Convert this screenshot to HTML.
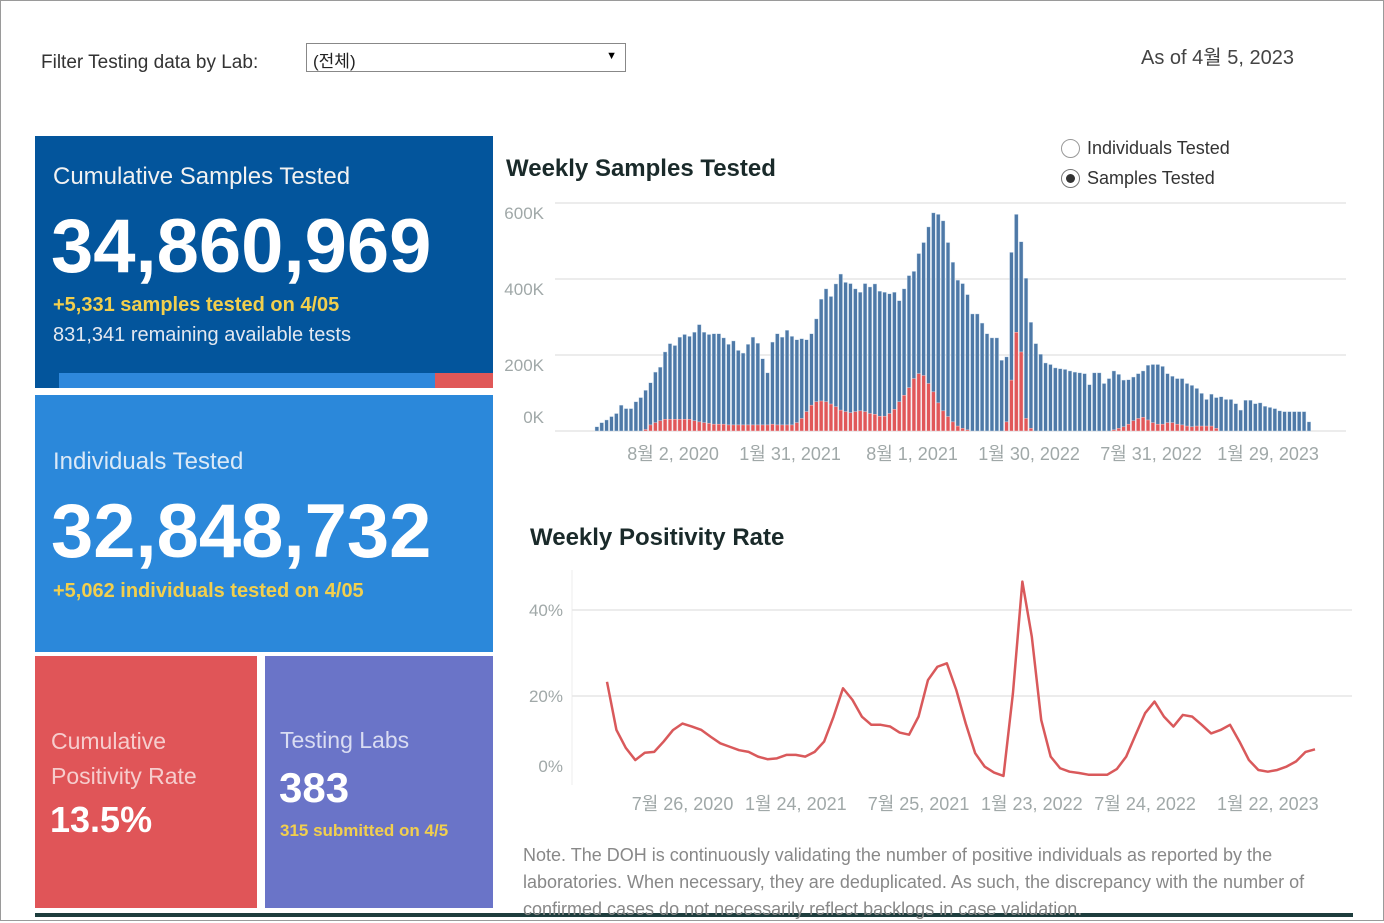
<!DOCTYPE html>
<html><head><meta charset="utf-8">
<style>
*{margin:0;padding:0;box-sizing:border-box}
body{width:1384px;height:921px;background:#fff;font-family:"Liberation Sans","Noto Sans CJK KR",sans-serif;position:relative;overflow:hidden}
.abs{position:absolute}
.frame{position:absolute;left:0;top:0;width:1384px;height:921px;border:1px solid #9a9a9a}
.panel{position:absolute;color:#fff}
.t{position:absolute;white-space:nowrap}
</style></head>
<body>
<div class="frame"></div>
<div class="t" style="left:41px;top:52px;font-size:19px;color:#333">Filter Testing data by Lab:</div>
<div class="abs" style="left:306px;top:43px;width:320px;height:29px;border:1px solid #888;background:#fff">
  <span class="t" style="left:6px;top:3px;font-size:17px;color:#222">(전체)</span>
  <span class="t" style="right:8px;top:6px;font-size:11px;color:#000">▼</span>
</div>
<div class="t" style="left:1141px;top:41px;font-size:20px;color:#444">As of 4월 5, 2023</div>

<div class="panel" style="left:35px;top:136px;width:458px;height:252px;background:#03559c">
  <div class="t" style="left:18px;top:27px;font-size:24px;color:#f2f2f2">Cumulative Samples Tested</div>
  <div class="t" style="left:16px;top:67px;font-size:76px;font-weight:bold">34,860,969</div>
  <div class="t" style="left:18px;top:158px;font-size:20px;font-weight:bold;color:#f2cf4d">+5,331 samples tested on 4/05</div>
  <div class="t" style="left:18px;top:188px;font-size:20px;color:#e3e8f0">831,341 remaining available tests</div>
  <div class="abs" style="left:24px;top:237px;width:376px;height:15px;background:#2e88dc"></div>
  <div class="abs" style="left:400px;top:237px;width:58px;height:15px;background:#e05858"></div>
</div>
<div class="panel" style="left:35px;top:395px;width:458px;height:257px;background:#2b88da">
  <div class="t" style="left:18px;top:53px;font-size:24px;color:#dbe9f7">Individuals Tested</div>
  <div class="t" style="left:16px;top:93px;font-size:76px;font-weight:bold">32,848,732</div>
  <div class="t" style="left:18px;top:185px;font-size:20px;font-weight:bold;color:#f2cf4d">+5,062 individuals tested on 4/05</div>
</div>
<div class="panel" style="left:35px;top:656px;width:222px;height:252px;background:#e05558">
  <div class="t" style="left:16px;top:68px;font-size:23px;color:#f6cdcd;line-height:35px">Cumulative<br>Positivity Rate</div>
  <div class="t" style="left:15px;top:143px;font-size:36px;font-weight:bold">13.5%</div>
</div>
<div class="panel" style="left:265px;top:656px;width:228px;height:252px;background:#6a74c8">
  <div class="t" style="left:15px;top:71px;font-size:23px;color:#d9dcf2">Testing Labs</div>
  <div class="t" style="left:14px;top:108px;font-size:42px;font-weight:bold">383</div>
  <div class="t" style="left:15px;top:165px;font-size:17px;font-weight:bold;color:#f2cf4d">315 submitted on 4/5</div>
</div>
<div class="abs" style="left:35px;top:913px;width:1318px;height:4px;background:#1d3d3d"></div>

<div class="t" style="left:506px;top:155px;font-size:24px;font-weight:bold;color:#1a2a2a">Weekly Samples Tested</div>
<div class="abs" style="left:1061px;top:139px">
  <span class="abs" style="left:0;top:0;width:19px;height:19px;border:1px solid #999;border-radius:50%"></span>
  <span class="t" style="left:26px;top:-1px;font-size:18px;color:#333">Individuals Tested</span>
</div>
<div class="abs" style="left:1061px;top:169px">
  <span class="abs" style="left:0;top:0;width:19px;height:19px;border:1px solid #777;border-radius:50%"></span>
  <span class="abs" style="left:5px;top:5px;width:9px;height:9px;background:#333;border-radius:50%"></span>
  <span class="t" style="left:26px;top:-1px;font-size:18px;color:#333">Samples Tested</span>
</div>
<div class="t" style="left:530px;top:524px;font-size:24px;font-weight:bold;color:#1a2a2a">Weekly Positivity Rate</div>
<div class="t" style="left:523px;top:842px;font-size:18px;color:#888;line-height:27px;white-space:normal;width:840px">Note. The DOH is continuously validating the number of positive individuals as reported by the laboratories. When necessary, they are deduplicated. As such, the discrepancy with the number of confirmed cases do not necessarily reflect backlogs in case validation.</div>

<svg class="abs" style="left:0;top:0" width="1384" height="921" id="charts"></svg>

<script>
const samples=[11,22,29,38,46,68,59,59,77,88,107,127,155,168,208,230,225,247,254,249,260,280,260,254,256,256,245,228,237,212,205,228,247,231,190,153,234,256,247,265,249,240,243,240,256,295,347,374,354,387,413,391,388,374,365,388,379,387,368,365,361,365,343,374,409,420,467,496,537,574,570,553,496,444,397,388,359,308,308,284,256,245,245,186,195,470,570,498,402,286,230,202,179,175,166,164,162,158,155,153,151,122,153,153,125,138,158,149,134,135,142,151,158,173,175,175,170,151,144,138,138,125,120,112,99,83,97,88,90,83,83,72,55,81,81,72,74,65,62,59,53,51,51,51,51,51,24];
const positives=[0,0,0,0,0,0,0,0,0,0,4,16,22,27,31,31,31,31,31,31,27,24,22,20,18,18,18,16,16,16,16,16,16,16,16,16,18,16,16,16,16,22,33,51,68,77,79,77,71,64,55,51,48,51,53,51,46,44,39,39,46,57,77,94,114,138,151,146,125,103,74,53,38,24,13,7,3,0,0,0,0,0,0,0,24,134,260,208,33,7,0,0,0,0,0,0,0,0,0,0,0,0,0,0,0,0,3,7,11,18,27,33,36,29,22,18,18,22,22,18,16,13,11,13,13,13,13,7,0,0,0,0,0,0,0,0,0,0,0,0,0,0,0,0,0];
const barTicks=[0,200,400,600];
const barTickLabels=["0K","200K","400K","600K"];
const barDateLabels=["8월 2, 2020","1월 31, 2021","8월 1, 2021","1월 30, 2022","7월 31, 2022","1월 29, 2023"];
const barDateIdx=[16,40,65,89,114,138];
const positivity=[23.3,12.1,7.9,5.1,6.8,7.0,9.4,12.1,13.6,12.9,12.1,10.5,9.0,8.2,7.4,7.0,5.9,5.3,5.5,6.3,6.3,5.9,7.0,9.4,15.2,21.8,19.1,15.2,13.3,13.3,12.9,11.5,11.0,15.2,23.7,26.8,27.6,21.4,13.6,6.7,3.6,2.2,1.4,20.6,46.6,33.8,14.4,5.9,3.2,2.4,2.1,1.7,1.7,1.7,3.0,5.9,11.0,16.0,18.7,15.2,12.9,15.6,15.2,13.3,11.3,12.1,13.3,9.4,5.1,2.8,2.4,2.8,3.6,4.8,7.0,7.6];
const lineTicks=[0,20,40];
const lineTickLabels=["0%","20%","40%"];
const lineDateLabels=["7월 26, 2020","1월 24, 2021","7월 25, 2021","1월 23, 2022","7월 24, 2022","1월 22, 2023"];
const lineDateIdx=[8,20,33,45,57,70];

const NS="http://www.w3.org/2000/svg";
const svg=document.getElementById('charts');
function mk(tag,attrs,parent){const e=document.createElementNS(NS,tag);for(const k in attrs)e.setAttribute(k,attrs[k]);(parent||svg).appendChild(e);return e;}
const bx0=595,bx1=1312,by0=431,bk=0.38;
const bStep=(bx1-bx0)/samples.length;
const bx=i=>bx0+i*bStep;
const byv=v=>by0-v*bk;
barTicks.forEach((t,i)=>{
  const g=mk('line',{x1:555,x2:1346,y1:byv(t),y2:byv(t),stroke:'#e6e6e6','stroke-width':1.5});
  
  
  const tx=mk('text',{x:544,y:byv(t)+(t===0?-8:16),'text-anchor':'end','font-size':17,fill:'#a0a8a8','font-family':'Liberation Sans, sans-serif'});
  tx.textContent=barTickLabels[i];
  
  
});
samples.forEach((v,i)=>{
  const r=mk('rect',{x:bx(i),y:byv(v),width:bStep-1.2,height:v*bk,fill:'#4e79a7',stroke:'#cfe0f0','stroke-width':0.4});
  
  
});
positives.forEach((v,i)=>{
  if(v<=0)return;
  const r=mk('rect',{x:bx(i),y:byv(v),width:bStep-1.2,height:v*bk,fill:'#e15759',stroke:'#fbdede','stroke-width':0.4});
  
  
});
barDateLabels.forEach((l,i)=>{
  const tx=mk('text',{x:bx(barDateIdx[i]),y:460,'text-anchor':'middle','font-size':18,fill:'#a0a8a8','font-family':'Liberation Sans, Noto Sans CJK KR, sans-serif'});
  tx.textContent=l;
  
  
});
const lx0=607,lx1=1315,ly0=782,lk=4.3;
const lStep=(lx1-lx0)/(positivity.length-1);
const lx=i=>lx0+i*lStep;
const ly=v=>ly0-v*lk;
mk('line',{x1:572,x2:572,y1:570,y2:785,stroke:'#eeeeee'});
lineTicks.forEach((t,i)=>{
  if(t>0){const g=mk('line',{x1:572,x2:1352,y1:ly(t),y2:ly(t),stroke:'#e6e6e6','stroke-width':1.5});
  
  }
  const tx=mk('text',{x:563,y:ly(t)+(t===0?-10:6),'text-anchor':'end','font-size':17,fill:'#a0a8a8','font-family':'Liberation Sans, sans-serif'});
  tx.textContent=lineTickLabels[i];
  
  
});
const p=mk('polyline',{points:positivity.map((v,i)=>lx(i)+','+ly(v)).join(' '),fill:'none',stroke:'#d9595b','stroke-width':2.5,'stroke-linejoin':'round'});


lineDateLabels.forEach((l,i)=>{
  const tx=mk('text',{x:lx(lineDateIdx[i]),y:810,'text-anchor':'middle','font-size':18,fill:'#a0a8a8','font-family':'Liberation Sans, Noto Sans CJK KR, sans-serif'});
  tx.textContent=l;
  
  
});
</script>
</body></html>
